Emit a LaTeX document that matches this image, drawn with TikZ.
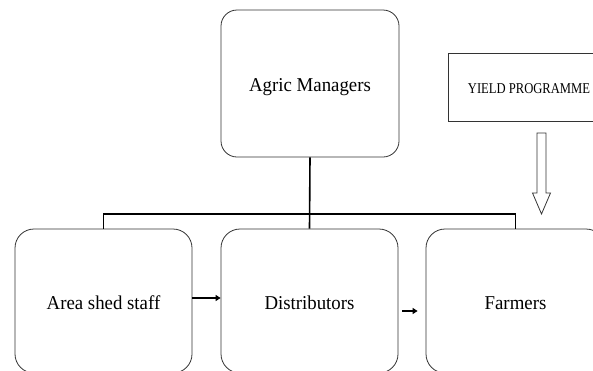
\documentclass[tikz,border=0pt]{standalone}
\usepackage{fontspec}
\setmainfont{Liberation Serif}
\newfontfamily\boxfont[FakeStretch=0.96]{Liberation Serif}
\newfontfamily\progfont[FakeStretch=0.84]{Liberation Serif}
\usetikzlibrary{arrows.meta}
\begin{document}
\begin{tikzpicture}[x=1pt,y=-1pt,
  unitbox/.style={draw=black!80,line width=0.8pt,rounded corners=#1,inner sep=0pt,
    text height=17.5pt,text depth=0pt,
    minimum width=177pt,minimum height=144pt,font=\boxfont\fontsize{19.6}{21}\selectfont},
  unitbox/.default=19pt,
  plainbox/.style={draw=black!80,line width=0.8pt,inner sep=0pt,
    text height=12.6pt,text depth=0pt,
    font=\progfont\fontsize{15}{17}\selectfont},
  link/.style={line width=1.6pt,black},
  flow/.style={line width=1.4pt,black,-{Triangle[length=5pt,width=6pt]}},
  hollow/.style={draw=black!80,line width=0.8pt,fill=white}]
\useasboundingbox (0,0) rectangle (593,370);
\clip (0,0) rectangle (593,370);

% management box and the programme box
\node[unitbox=16pt,minimum width=178pt,minimum height=147pt,text height=16.4pt] (mgr) at (310,83.5) {Agric Managers};
\node[plainbox,minimum width=162pt,minimum height=68pt] (yield) at (529,87) {YIELD PROGRAMME};

% lower row
\node[unitbox] (area) at (103.5,301) {Area shed staff};
\node[unitbox] (dist) at (309.5,301) {Distributors};
\node[unitbox,minimum width=179pt] (farm) at (515.5,301) {Farmers};

% tree connectors
\coordinate (busL) at (area.north |- 0,214);
\coordinate (busR) at (farm.north |- 0,214);
\draw[link] (mgr.south) -- (dist.north);
\draw[link] (area.north) -- (busL) -- (busR) -- (farm.north);

% flow arrows
\draw[flow] ([yshift=3pt]area.east) -- ([yshift=3pt]dist.west);
\draw[flow] ([xshift=4pt,yshift=-10pt]dist.east) -- ([xshift=-8pt,yshift=-10pt]farm.west);

% hollow arrow from the programme box down to the farmers
\coordinate (tip) at (541.5,214);
\draw[hollow] ([xshift=-4.5pt]tip |- 0,133) -- ([xshift=-4.5pt]tip |- 0,193)
  -- ([xshift=-9pt]tip |- 0,193) -- (tip) -- ([xshift=9pt]tip |- 0,193)
  -- ([xshift=4.5pt]tip |- 0,193) -- ([xshift=4.5pt]tip |- 0,133) -- cycle;
\end{tikzpicture}
\end{document}
